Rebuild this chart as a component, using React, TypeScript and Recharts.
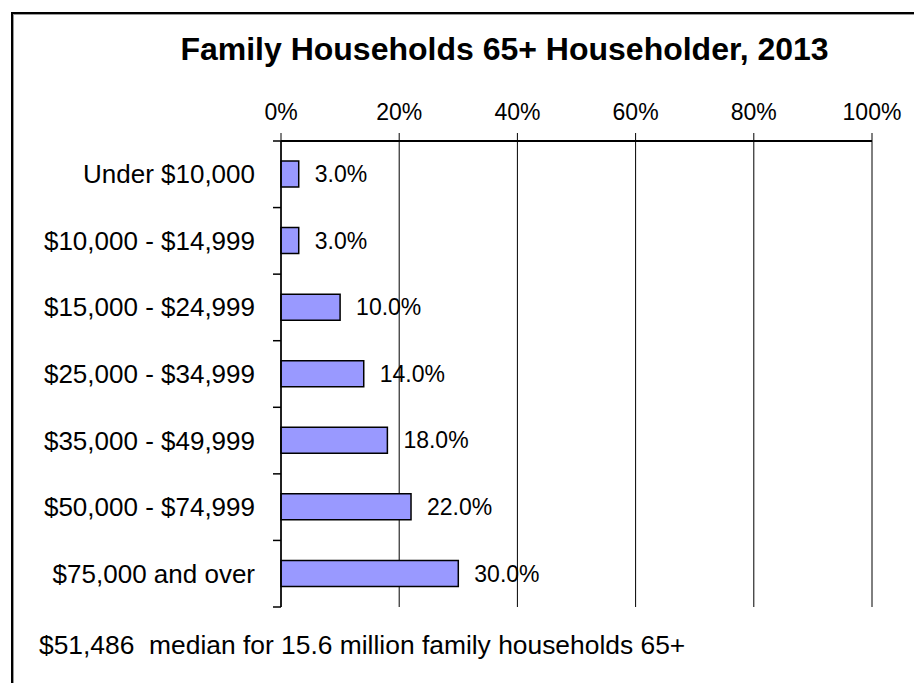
import { Bar, BarChart, CartesianGrid, LabelList, XAxis, YAxis } from 'recharts';

// income brackets, top to bottom
const CATEGORIES = [
  'Under $10,000',
  '$10,000 - $14,999',
  '$15,000 - $24,999',
  '$25,000 - $34,999',
  '$35,000 - $49,999',
  '$50,000 - $74,999',
  '$75,000 and over',
];
const SHARES = [3.0, 3.0, 10.0, 14.0, 18.0, 22.0, 30.0];
const PCT_TICKS = [0, 20, 40, 60, 80, 100];

const TITLE = 'Family Households 65+ Householder, 2013';
const FOOTNOTE = '$51,486\u00a0\u00a0median for 15.6 million family households 65+';

const FONT = '"Liberation Sans", Arial, sans-serif';
const WIDTH = 914;
const HEIGHT = 683;
const MARGIN = { top: 100, right: 42, bottom: 76, left: 0 };
const X_AXIS_H = 41;
const Y_AXIS_W = 281;
const PLOT_H = HEIGHT - MARGIN.top - MARGIN.bottom - X_AXIS_H;
const BAND = PLOT_H / CATEGORIES.length;

const data = CATEGORIES.map((name, i) => ({ name, value: SHARES[i] }));

// category label plus Excel-style tick marks on the band boundaries
function CategoryTick(props: any) {
  const { x, y, payload, index } = props;
  const last = index === CATEGORIES.length - 1;
  return (
    <g>
      <text x={x} y={y} dy={9} textAnchor="end" fontSize={26} fontFamily={FONT} fill="#000">
        {payload.value}
      </text>
      <line x1={x + 18} x2={x + 26} y1={y - BAND / 2} y2={y - BAND / 2} stroke="#000" strokeWidth={1.5} />
      {last && (
        <line x1={x + 18} x2={x + 26} y1={y + BAND / 2} y2={y + BAND / 2} stroke="#000" strokeWidth={1.5} />
      )}
    </g>
  );
}

export default function App() {
  return (
    <div
      style={{
        position: 'absolute',
        left: 0,
        top: 0,
        width: WIDTH,
        height: HEIGHT,
        overflow: 'hidden',
        background: '#fff',
        fontFamily: FONT,
      }}
    >
      <div
        style={{
          position: 'absolute',
          left: 11,
          top: 12,
          width: 1000,
          height: 1000,
          border: '2px solid #000',
          boxShadow: 'inset 1px 1px 0 #999',
        }}
      />
      <div
        style={{
          position: 'absolute',
          left: 0,
          width: 1009,
          top: 31,
          textAlign: 'center',
          fontSize: 32,
          lineHeight: '36px',
          fontWeight: 'bold',
          whiteSpace: 'nowrap',
          color: '#000',
        }}
      >
        {TITLE}
      </div>
      <div style={{ position: 'absolute', left: 0, top: 0 }}>
        <BarChart width={WIDTH} height={HEIGHT} data={data} layout="vertical" margin={MARGIN}>
          <CartesianGrid horizontal={false} stroke="#000" strokeWidth={1} />
          <XAxis
            type="number"
            orientation="top"
            domain={[0, 100]}
            ticks={PCT_TICKS}
            tickFormatter={(v) => `${v}%`}
            height={X_AXIS_H}
            tickSize={8}
            tickMargin={13}
            axisLine={{ stroke: '#000', strokeWidth: 2 }}
            tickLine={{ stroke: '#000' }}
            tick={{ fontSize: 23, fill: '#000', fontFamily: FONT }}
          />
          <YAxis
            type="category"
            dataKey="name"
            width={Y_AXIS_W}
            tickSize={8}
            tickMargin={18}
            tickLine={false}
            axisLine={{ stroke: '#000', strokeWidth: 1.5 }}
            tick={<CategoryTick />}
            interval={0}
          />
          <Bar dataKey="value" fill="#9999ff" stroke="#000" strokeWidth={1.5} barSize={26} isAnimationActive={false}>
            <LabelList
              dataKey="value"
              position="right"
              offset={16}
              formatter={(v: any) => `${Number(v).toFixed(1)}%`}
              style={{ fontSize: 23, fill: '#000', fontFamily: FONT }}
            />
          </Bar>
        </BarChart>
      </div>
      <div
        style={{
          position: 'absolute',
          left: 39,
          top: 630,
          fontSize: 26.4,
          lineHeight: '30px',
          whiteSpace: 'nowrap',
          color: '#000',
        }}
      >
        {FOOTNOTE}
      </div>
    </div>
  );
}
